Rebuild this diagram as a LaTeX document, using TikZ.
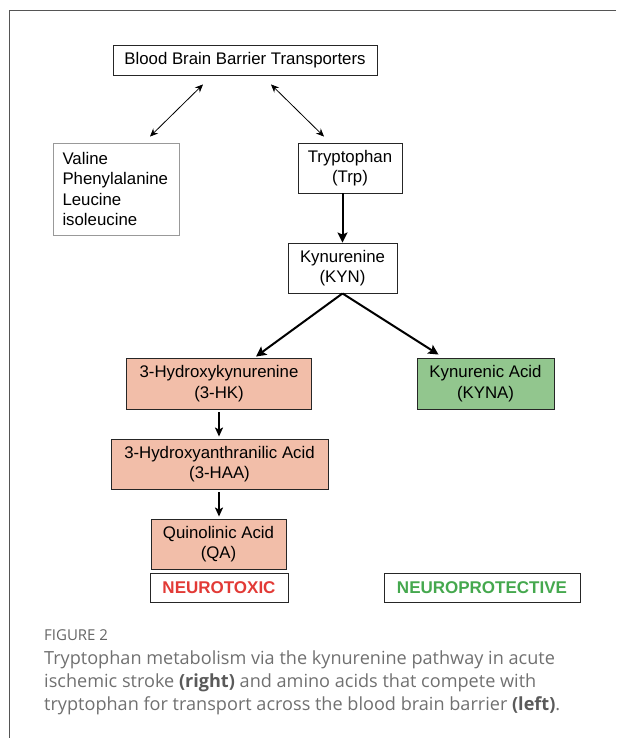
\documentclass[tikz,border=0pt]{standalone}
\usepackage{fontspec}
\usepackage{xcolor}
\usepackage{tikz}
\usetikzlibrary{arrows.meta}
\setmainfont{Liberation Sans}
\newfontfamily\capfont{Open Sans}
\definecolor{kpsalmon}{HTML}{F2BEA9}
\definecolor{kpgreen}{HTML}{92C68E}
\definecolor{kpred}{HTML}{E23A36}
\definecolor{kpgreentext}{HTML}{45A84E}
\definecolor{kpframe}{HTML}{555555}
\definecolor{kpcaption}{HTML}{707070}
\tikzset{
  box/.style={draw=black!85, line width=0.9pt, align=center, inner sep=0pt,
    font=\fontsize{16.8}{20.5}\selectfont},
  toxic/.style={box, fill=kpsalmon, minimum height=51pt},
  tag/.style={box, minimum height=29pt, font=\fontsize{17}{19}\selectfont\bfseries},
  thinarrow/.style={{Stealth[length=8pt,width=7pt]}-{Stealth[length=8pt,width=7pt]}, line width=0.8pt},
  thickarrow/.style={-{Stealth[length=10pt,width=10pt,inset=2pt]}, line width=2pt},
  midarrow/.style={-{Stealth[length=9pt,width=8pt,inset=2pt]}, line width=1.6pt}
}

\begin{document}
\begin{tikzpicture}[x=1pt, y=-1pt]
    \useasboundingbox (0,0) rectangle (616,738);
    \draw[kpframe, line width=1pt] (616,11) -- (9.5,11) -- (9.5,738);

    \node[box, minimum width=264pt, minimum height=30pt] (bbb) at (245,60)
      {Blood Brain Barrier Transporters};
    \node[box, draw=black!40, minimum width=126pt, minimum height=92pt,
      text width=107pt, align=left] (aa) at (116,189)
      {Valine\\Phenylalanine\\Leucine\\isoleucine};
    \node[box, minimum width=104pt, minimum height=50pt] (trp) at (350,168)
      {Tryptophan\\(Trp)};
    \node[box, minimum width=109pt, minimum height=50pt] (kyn) at (342.5,268)
      {Kynurenine\\(KYN)};
    \node[toxic, minimum width=185pt] (hk) at (219,383.5)
      {3-Hydroxykynurenine\\(3-HK)};
    \node[box, fill=kpgreen, minimum width=137pt, minimum height=51pt] (kyna) at (485.5,383.5)
      {Kynurenic Acid\\(KYNA)};
    \node[toxic, minimum width=217pt, minimum height=50pt] (haa) at (219.5,464)
      {3-Hydroxyanthranilic Acid\\(3-HAA)};
    \node[toxic, minimum width=135pt, minimum height=50pt] (qa) at (218.5,544)
      {Quinolinic Acid\\(QA)};
    \node[tag, minimum width=138pt, text=kpred] (tox) at (219,587.5) {NEUROTOXIC};
    \node[tag, minimum width=196pt, text=kpgreentext] (prot) at (482,587.5) {NEUROPROTECTIVE};

    \draw[thinarrow] ([xshift=-42pt, yshift=-9pt]bbb.south) -- ([xshift=34pt, yshift=6pt]aa.north);
    \draw[thinarrow] ([xshift=26pt, yshift=-9pt]bbb.south) -- ([xshift=-26pt, yshift=6pt]trp.north);
    \draw[thickarrow] (trp.south -| kyn.north) -- (kyn.north);
    \draw[thickarrow] (kyn.south) -- ([xshift=37pt, yshift=1pt]hk.north);
    \draw[thickarrow] (kyn.south) -- ([xshift=-47pt, yshift=3pt]kyna.north);
    \draw[midarrow] ([yshift=-3pt]hk.south) -- ([yshift=2pt]hk.south |- haa.north);
    \draw[midarrow] ([yshift=-3pt]haa.south -| hk.south) -- ([yshift=2pt]hk.south |- qa.north);

    \node[anchor=west, inner sep=0pt, text=kpcaption!90!black,
      font=\capfont\fontsize{15}{17}\selectfont] (fig) at (44,635) {FIGURE 2};
    \node[anchor=north west, inner sep=0pt, text=kpcaption, align=left,
      font=\capfont\fontsize{18.1}{23}\selectfont] (cap) at (44,651)
      {Tryptophan metabolism via the kynurenine pathway in acute\\
       ischemic stroke {\color{kpcaption!80!black}\textbf{(right)}} and amino acids that compete with\\
       tryptophan for transport across the blood brain barrier {\color{kpcaption!80!black}\textbf{(left)}}.};
  \end{tikzpicture}
\end{document}
